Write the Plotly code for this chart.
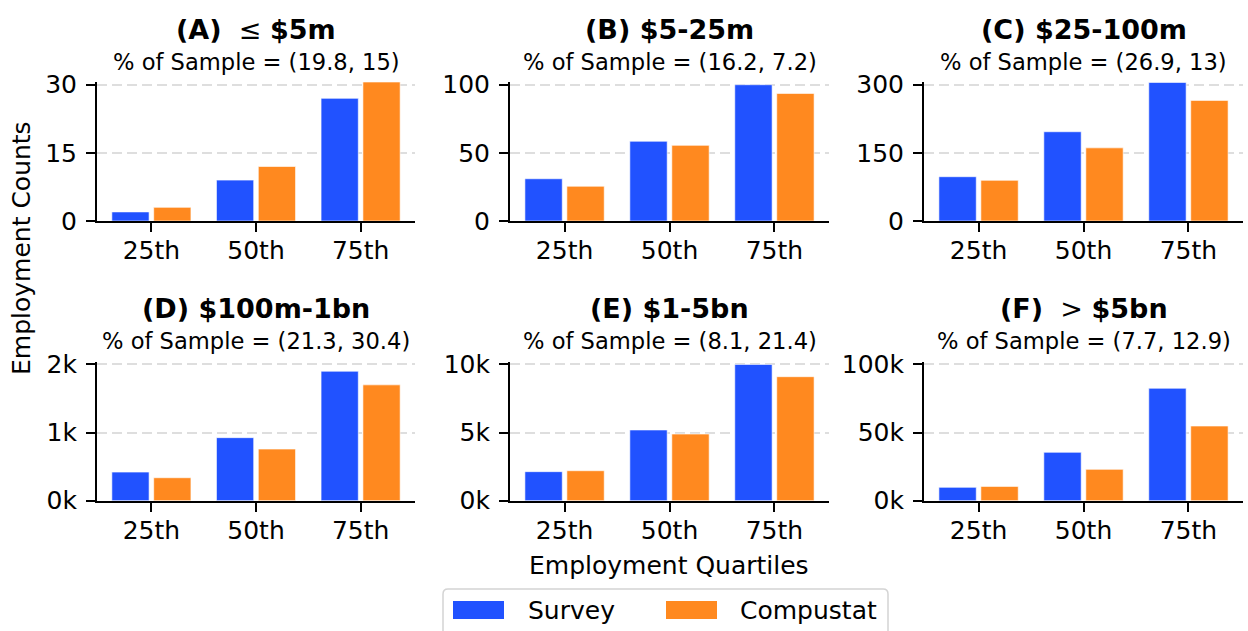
import plotly.graph_objects as go

W, H = 1248, 631

categories = ["25th", "50th", "75th"]

survey_A = [2, 9, 27]
compustat_A = [3, 12, 30.6]
survey_B = [31, 58.5, 100]
compustat_B = [25.5, 55.5, 93.6]
survey_C = [97.5, 196.5, 305]
compustat_C = [89.5, 161, 265.5]
survey_D = [420, 925, 1900]
compustat_D = [337, 758, 1700]
survey_E = [2130, 5190, 10000]
compustat_E = [2200, 4890, 9100]
survey_F = [9800, 35500, 82500]
compustat_F = [10500, 23000, 54800]

titles = ["<b>(A)</b>\u00a0 \u2264 <b>$5m</b>", "<b>(B) $5-25m</b>", "<b>(C) $25-100m</b>",
          "<b>(D) $100m-1bn</b>", "<b>(E) $1-5bn</b>", "<b>(F)</b>\u00a0 > <b>$5bn</b>"]
subtitles = ["% of Sample = (19.8, 15)", "% of Sample = (16.2, 7.2)",
             "% of Sample = (26.9, 13)", "% of Sample = (21.3, 30.4)",
             "% of Sample = (8.1, 21.4)", "% of Sample = (7.7, 12.9)"]

tickvals_A = [0, 15, 30];        ticktext_A = ["0", "15", "30"]
tickvals_B = [0, 50, 100];       ticktext_B = ["0", "50", "100"]
tickvals_C = [0, 150, 300];      ticktext_C = ["0", "150", "300"]
tickvals_D = [0, 1000, 2000];    ticktext_D = ["0k", "1k", "2k"]
tickvals_E = [0, 5000, 10000];   ticktext_E = ["0k", "5k", "10k"]
tickvals_F = [0, 50000, 100000]; ticktext_F = ["0k", "50k", "100k"]

series_names = ["Survey", "Compustat"]
BLUE = "#2152ff"
ORANGE = "#ff891f"
FONT = "DejaVu Sans"

surveys = [survey_A, survey_B, survey_C, survey_D, survey_E, survey_F]
comps = [compustat_A, compustat_B, compustat_C, compustat_D, compustat_E, compustat_F]
tvals = [tickvals_A, tickvals_B, tickvals_C, tickvals_D, tickvals_E, tickvals_F]
ttext = [ticktext_A, ticktext_B, ticktext_C, ticktext_D, ticktext_E, ticktext_F]

# pixel layout of the axes boxes
col_px = [(97, 415), (510, 829), (924, 1243)]
row_px = [(82, 221), (361.7, 500.7)]

fig = go.Figure()
annotations = []
for i in range(6):
    r, c = divmod(i, 3)
    ax = "" if i == 0 else str(i + 1)
    for name, vals, color in ((series_names[0], surveys[i], BLUE),
                              (series_names[1], comps[i], ORANGE)):
        fig.add_trace(go.Bar(
            x=categories, y=vals, name=name,
            marker=dict(color=color, line=dict(color="rgba(255,255,255,0.6)", width=1)),
            xaxis="x" + ax, yaxis="y" + ax, showlegend=False))
    x0, x1 = col_px[c]
    y0, y1 = row_px[r]
    fig.layout["xaxis" + ax] = dict(
        domain=[x0 / W, x1 / W], anchor="y" + ax, type="category",
        range=[-0.52, 2.52], showline=True, linecolor="black", linewidth=2,
        ticks="outside", ticklen=9, tickwidth=2, tickcolor="black",
        showgrid=False, tickfont=dict(size=25, color="black", family=FONT),
        ticklabelstandoff=-3, automargin=False)
    top = tvals[i][-1] * 1.02
    fig.layout["yaxis" + ax] = dict(
        domain=[1 - y1 / H, 1 - y0 / H], anchor="x" + ax,
        range=[0, top], tickvals=tvals[i], ticktext=ttext[i],
        showline=True, linecolor="black", linewidth=2,
        ticks="outside", ticklen=9, tickwidth=2, tickcolor="black",
        showgrid=True, gridcolor="#dedede", gridwidth=1.5, griddash="10px,5px",
        zeroline=False, tickfont=dict(size=25, color="black", family=FONT),
        ticklabelstandoff=4, automargin=False)
    cx = (x0 + x1) / 2 / W
    ty = 30 if r == 0 else 308
    sy = 62 if r == 0 else 341
    annotations.append(dict(x=cx, y=1 - ty / H, xref="paper", yref="paper",
                            text=titles[i], showarrow=False,
                            xanchor="center", yanchor="middle",
                            font=dict(size=27, color="black", family=FONT)))
    annotations.append(dict(x=cx, y=1 - sy / H, xref="paper", yref="paper",
                            text=subtitles[i], showarrow=False,
                            xanchor="center", yanchor="middle",
                            font=dict(size=22.6, color="black", family=FONT)))

annotations.append(dict(x=22 / W, y=1 - 248 / H, xref="paper", yref="paper",
                        text="Employment Counts", textangle=-90, showarrow=False,
                        xanchor="center", yanchor="middle",
                        font=dict(size=25, color="black", family=FONT)))
annotations.append(dict(x=669 / W, y=1 - 565 / H, xref="paper", yref="paper",
                        text="Employment Quartiles", showarrow=False,
                        xanchor="center", yanchor="middle",
                        font=dict(size=25, color="black", family=FONT)))

# legend (drawn with paper-space shapes)
shapes = []
lx0, lx1, ly0, ly1, rad = 443, 888, 589, 645, 5
def px(x): return x / W
def py(y): return 1 - y / H
path = (f"M {px(lx0 + rad)},{py(ly0)} L {px(lx1 - rad)},{py(ly0)} "
        f"Q {px(lx1)},{py(ly0)} {px(lx1)},{py(ly0 + rad)} "
        f"L {px(lx1)},{py(ly1 - rad)} Q {px(lx1)},{py(ly1)} {px(lx1 - rad)},{py(ly1)} "
        f"L {px(lx0 + rad)},{py(ly1)} Q {px(lx0)},{py(ly1)} {px(lx0)},{py(ly1 - rad)} "
        f"L {px(lx0)},{py(ly0 + rad)} Q {px(lx0)},{py(ly0)} {px(lx0 + rad)},{py(ly0)} Z")
shapes.append(dict(type="path", xref="paper", yref="paper", path=path,
                   line=dict(color="#d4d4d4", width=1.5), fillcolor="white"))
for (bx, color, tx, name) in ((453, BLUE, 526, series_names[0]),
                              (666, ORANGE, 738, series_names[1])):
    shapes.append(dict(type="rect", xref="paper", yref="paper",
                       x0=px(bx), x1=px(bx + 51), y0=py(619), y1=py(601),
                       fillcolor=color, line=dict(width=0)))
    annotations.append(dict(x=px(tx), y=py(610), xref="paper", yref="paper",
                            text=name, showarrow=False, xanchor="left",
                            yanchor="middle",
                            font=dict(size=25, color="black", family=FONT)))

fig.update_layout(
    width=W, height=H, margin=dict(l=0, r=0, t=0, b=0, pad=0, autoexpand=False),
    paper_bgcolor="white", plot_bgcolor="white",
    barmode="group", bargap=0.2, bargroupgap=0.11,
    showlegend=False, annotations=annotations, shapes=shapes,
    font=dict(family=FONT, color="black"))

fig.write_html("out.html")
